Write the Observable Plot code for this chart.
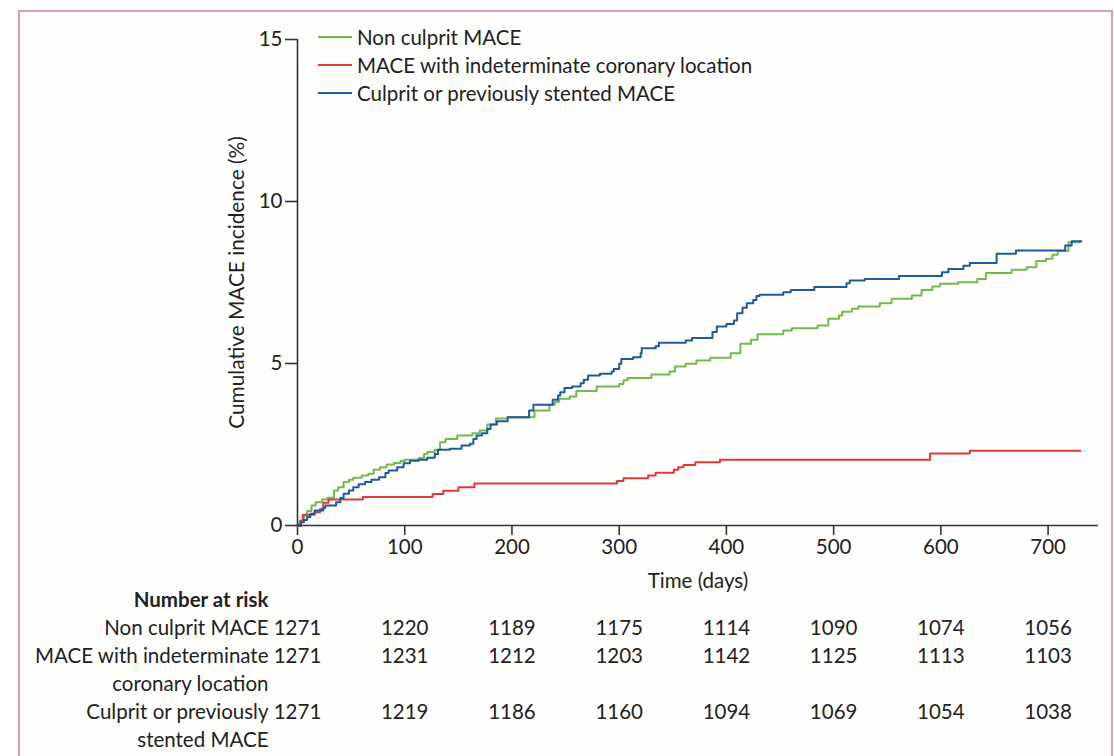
<!DOCTYPE html>
<html>
<head>
<meta charset="utf-8">
<script src="https://cdn.jsdelivr.net/npm/d3@7"></script>
<script src="https://cdn.jsdelivr.net/npm/@observablehq/plot@0.6"></script>
<style>
  html, body { margin: 0; padding: 0; background: #ffffff; }
  body { width: 1114px; height: 756px; position: relative; overflow: hidden; font-family: Lato, "Open Sans", sans-serif; }
  #frame { position: absolute; left: 18px; top: 10px; width: 1091px; height: 800px;
           border-left: 2px solid #d9a0b3; border-top: 2px solid #d9a0b3; border-right: 2px solid #d9a0b3;
           background: #fefefd; }
  #chart { position: absolute; left: 0; top: 0; }
  #chart svg { display: block; background: transparent; }
  #legend { position: absolute; left: 318px; top: 23px; font-size: 20.5px; color: #222; }
  .lg { display: flex; align-items: center; height: 28px; }
  .lg svg { margin-right: 5px; }
</style>
</head>
<body>
<div id="frame"></div>
<div id="chart"></div>
<div id="legend"></div>
<script>
// ---- data ----
const seriesNames = ["Non culprit MACE", "MACE with indeterminate coronary location", "Culprit or previously stented MACE"];
const seriesColors = ["#74b84e", "#e2383a", "#1c5b9c"];
const riskLabels = ["Non culprit MACE", "MACE with indeterminate\ncoronary location", "Culprit or previously\nstented MACE"];
const xTicks = [0, 100, 200, 300, 400, 500, 600, 700];
const yTicks = [0, 5, 10, 15];

const nonCulprit = [[0,0],[2,0.15],[6,0.3],[9,0.45],[13,0.62],[17,0.72],[23,0.8],[28,0.86],[34,1.08],[38,1.18],[43,1.34],[48,1.41],[52,1.47],[60,1.54],[66,1.6],[71,1.72],[77,1.8],[83,1.88],[90,1.93],[96,1.99],[100,2.03],[113,2.08],[118,2.21],[121,2.27],[128,2.34],[133,2.57],[138,2.67],[149,2.78],[163,2.85],[170,2.93],[177,3.12],[185,3.3],[196,3.34],[221,3.55],[235,3.73],[240,3.81],[244,3.91],[254,3.98],[260,4.15],[279,4.29],[300,4.37],[304,4.48],[308,4.55],[330,4.66],[347,4.75],[352,4.91],[362,4.99],[372,5.09],[385,5.18],[404,5.32],[413,5.61],[423,5.73],[429,5.9],[453,6.02],[461,6.09],[485,6.17],[495,6.38],[505,6.48],[508,6.6],[517,6.69],[523,6.76],[543,6.86],[554,7.0],[573,7.1],[582,7.27],[592,7.38],[599,7.46],[616,7.51],[634,7.61],[642,7.79],[666,7.89],[680,7.97],[689,8.16],[698,8.23],[704,8.36],[709,8.47],[719,8.74],[730,8.74]];

const indeterminate = [[0,0],[3,0.15],[5,0.33],[16,0.41],[21,0.51],[24,0.7],[29,0.8],[61,0.88],[126,0.97],[136,1.07],[150,1.18],[165,1.3],[298,1.37],[304,1.46],[327,1.54],[334,1.63],[351,1.72],[355,1.8],[360,1.87],[371,1.95],[394,2.03],[590,2.22],[627,2.31],[730,2.31]];

const culprit = [[0,0],[3,0.1],[6,0.17],[9,0.26],[12,0.36],[16,0.46],[24,0.55],[26,0.62],[36,0.72],[40,0.85],[43,0.98],[48,1.08],[52,1.18],[57,1.27],[63,1.34],[69,1.41],[76,1.49],[82,1.62],[85,1.7],[93,1.8],[99,1.92],[105,2.0],[113,2.03],[121,2.09],[128,2.21],[131,2.34],[142,2.37],[153,2.47],[161,2.52],[164,2.67],[167,2.78],[172,2.85],[177,2.98],[180,3.12],[186,3.22],[196,3.34],[216,3.55],[220,3.73],[238,3.88],[243,4.01],[245,4.11],[249,4.24],[256,4.29],[264,4.39],[267,4.5],[271,4.63],[282,4.68],[293,4.75],[295,4.83],[300,4.99],[302,5.14],[313,5.19],[320,5.32],[321,5.47],[334,5.53],[337,5.64],[362,5.71],[368,5.79],[387,5.97],[391,6.14],[400,6.22],[407,6.33],[410,6.55],[415,6.72],[419,6.86],[425,6.96],[428,7.08],[431,7.12],[453,7.2],[460,7.27],[482,7.36],[512,7.48],[515,7.56],[529,7.61],[561,7.7],[601,7.82],[607,7.92],[621,8.02],[627,8.1],[652,8.39],[670,8.49],[716,8.64],[722,8.77],[731,8.77]];

const riskNonCulprit = [1271, 1220, 1189, 1175, 1114, 1090, 1074, 1056];
const riskIndeterminate = [1271, 1231, 1212, 1203, 1142, 1125, 1113, 1103];
const riskCulprit = [1271, 1219, 1186, 1160, 1094, 1069, 1054, 1038];

// ---- build tables ----
const curves = [nonCulprit, indeterminate, culprit];
const curveRows = curves.flatMap((arr, i) => arr.map(([t, v]) => ({t, v, s: seriesNames[i]})));

const xDomain = [0, 747];
const font = {fontFamily: "Lato, 'Open Sans', sans-serif", fontSize: "20.5px", color: "#222", background: "transparent", overflow: "visible"};

const main = Plot.plot({
  width: 1114, height: 595,
  marginLeft: 297, marginRight: 16, marginTop: 39, marginBottom: 70,
  style: font,
  x: {domain: xDomain, ticks: xTicks, tickSize: 10, tickPadding: 4, label: "Time (days)", labelAnchor: "center", labelOffset: 62, labelArrow: "none"},
  y: {domain: [0, 15], ticks: yTicks, tickSize: 12, tickPadding: 3, label: "Cumulative MACE incidence (%)", labelAnchor: "center", labelOffset: 68, labelArrow: "none"},
  color: {domain: seriesNames, range: seriesColors},
  marks: [
    Plot.line(curveRows, {x: "t", y: "v", z: "s", stroke: "s", strokeWidth: 2, curve: "step-after"}),
    Plot.ruleY([0], {stroke: "#333", strokeWidth: 1.6}),
    Plot.ruleX([0], {stroke: "#333", strokeWidth: 1.6})
  ]
});
main.querySelectorAll("[aria-label='y-axis tick'], [aria-label='x-axis tick']").forEach(g => { g.setAttribute("stroke", "#333"); g.setAttribute("stroke-width", "1.6"); });
const yLab = main.querySelector("[aria-label='y-axis label']");
if (yLab) yLab.setAttribute("font-size", "20.8px");

// risk table: each label line takes one text line
const lineRows = [];
let line = 1;
const riskRows = [];
[riskNonCulprit, riskIndeterminate, riskCulprit].forEach((vals, i) => {
  const parts = riskLabels[i].split("\n");
  parts.forEach((p, k) => lineRows.push({line: line + k, text: p}));
  vals.forEach((n, j) => riskRows.push({line, t: xTicks[j], n}));
  line += parts.length;
});

const table = Plot.plot({
  width: 1114, height: 161,
  marginLeft: 297, marginRight: 16, marginTop: 0, marginBottom: 0,
  style: font,
  x: {domain: xDomain, axis: null},
  y: {domain: [0, 4], range: [5, 117], axis: null},
  marks: [
    Plot.text([{line: 0, text: "Number at risk"}], {x: () => 0, y: "line", text: "text", textAnchor: "end", dx: -29, fontWeight: "bold", fill: "#222"}),
    Plot.text(lineRows, {x: () => 0, y: "line", text: "text", textAnchor: "end", dx: -29, fill: "#222"}),
    Plot.text(riskRows, {x: "t", y: "line", text: d => String(d.n), textAnchor: "middle", fill: "#222"})
  ]
});

const chart = document.getElementById("chart");
chart.appendChild(main);
chart.appendChild(table);

// legend
const legend = document.getElementById("legend");
seriesNames.forEach((name, i) => {
  const row = document.createElement("div");
  row.className = "lg";
  row.innerHTML = `<svg width="34" height="4"><line x1="0" x2="34" y1="2" y2="2" stroke="${seriesColors[i]}" stroke-width="2"/></svg><span>${name}</span>`;
  legend.appendChild(row);
});
</script>
</body>
</html>
